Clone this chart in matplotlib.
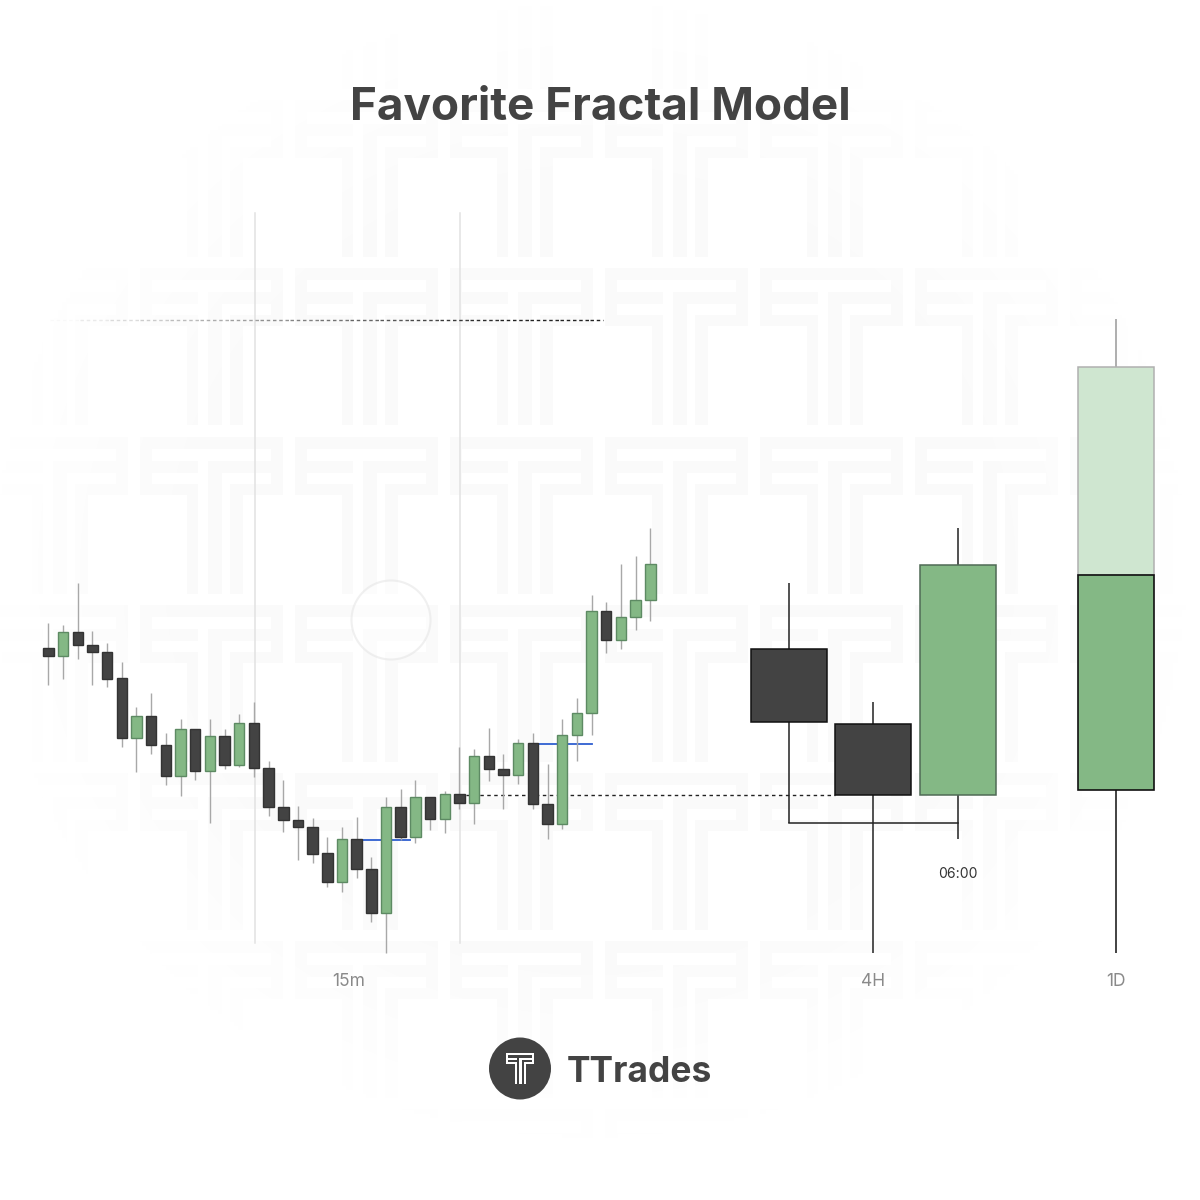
"""Favorite Fractal Model: 15m, 4H and 1D candles on one price scale."""
import matplotlib
matplotlib.use("Agg")
import matplotlib.pyplot as plt
import numpy as np
from matplotlib.patches import Circle, Rectangle

plt.rcParams["font.family"] = ["Inter", "Lato", "DejaVu Sans"]

# candle levels, 0 = lowest low on the picture
m15_top = [305, 321, 321, 308, 301, 275, 237, 237, 208, 224, 224, 217, 217, 230, 230, 185, 146, 133, 126, 100, 114,
           114, 84, 146, 146, 156, 156, 159, 159, 197, 197, 184, 210, 210, 149, 218, 240, 342, 342, 336, 353, 389]
m15_bot = [297, 297, 308, 301, 274, 215, 215, 208, 177, 177, 182, 182, 188, 188, 185, 146, 133, 126, 99, 71, 71,
           84, 40, 40, 116, 116, 134, 134, 150, 150, 184, 178, 178, 149, 129, 129, 218, 240, 313, 313, 336, 353]
m15_high = [330, 328, 370, 322, 310, 291, 246, 260, 220, 234, 224, 234, 224, 239, 251, 192, 173, 147, 135, 116, 126,
            136, 96, 156, 164, 173, 156, 162, 206, 204, 225, 199, 214, 220, 189, 234, 255, 358, 351, 389, 397, 425]
m15_low = [268, 274, 294, 268, 266, 206, 181, 199, 168, 157, 173, 130, 184, 186, 176, 137, 121, 93, 90, 66, 61,
           75, 31, 0, 113, 110, 123, 120, 144, 129, 172, 144, 169, 144, 114, 124, 192, 218, 300, 304, 323, 332]
m15_up = [0, 1, 0, 0, 0, 0, 1, 0, 0, 1, 0, 1, 0, 1, 0, 0, 0, 0, 0, 0, 1,
          0, 0, 1, 0, 1, 0, 1, 0, 1, 0, 0, 1, 0, 0, 1, 1, 1, 0, 1, 1, 1]

h4_top = [304, 229, 388]
h4_bot = [231, 158, 158]
h4_high = [370, 251, 425]
h4_low = [130, 0, 114]
h4_up = [0, 0, 1]

d1_top = 378
d1_bot = 163
d1_proj_top = 586
d1_high = 634
d1_low = 0

sweep_level = 633
open_level = 158.5
blue_levels = [113, 209]
bracket_level = 130

GREEN = "#84b885"
DARK = "#434343"

# one T of the background, in pixels from its top left corner
T_BARS = [
    (0, 0, 143, 12), (0, 0, 12, 58), (131, 0, 12, 58),
    (12, 24, 46, 12), (68, 24, 63, 12),
    (12, 47, 46, 11), (90, 47, 53, 11),
    (47, 47, 11, 110), (68, 24, 14, 133), (90, 47, 13, 110),
]


def draw_t(ax, x0, y0, scale=1.0, color="#fafafa", zorder=1):
    for bx, by, bw, bh in T_BARS:
        ax.add_patch(Rectangle((x0 + bx * scale, y0 + by * scale), bw * scale, bh * scale,
                               facecolor=color, edgecolor="none", zorder=zorder))


def draw_candle(ax, x, top, bot, high, low, color, width, edge, wick, lw):
    ax.plot([x, x], [low, high], color=wick, lw=lw, zorder=2, solid_capstyle="butt")
    ax.add_patch(Rectangle((x - width / 2, bot), width, top - bot, facecolor=color,
                           edgecolor=edge, lw=lw, zorder=3))


fig = plt.figure(figsize=(12, 12), dpi=100, facecolor="white")

# background axes, in image pixels
bg = fig.add_axes([0, 0, 1, 1], zorder=0)
bg.set_xlim(0, 1200)
bg.set_ylim(1200, 0)
bg.axis("off")

for y0 in [-68, 100, 268, 437, 605, 773, 941, 1109]:
    for x0 in [-170, -15, 140, 295, 450, 605, 760, 915, 1070]:
        draw_t(bg, x0, y0)

# watermark fades out away from the middle
yy, xx = np.mgrid[0:1200:300j, 0:1200:300j]
dist = np.hypot((xx - 590) / 620, (yy - 570) / 590)
fade = np.ones((300, 300, 4))
fade[..., 3] = np.clip((dist - 0.62) / 0.34, 0, 1)
bg.imshow(fade, extent=(0, 1200, 1200, 0), zorder=1.5, aspect="auto", interpolation="bilinear")
bg.set_xlim(0, 1200)
bg.set_ylim(1200, 0)

bg.add_patch(Circle((391, 620), 39.5, facecolor="white", alpha=0.6, edgecolor="#e6e6e6", lw=1.5, zorder=2))
bg.plot([254.5, 254.5], [213, 943], color="#e2e2e2", lw=1.1, zorder=2)
bg.plot([460, 460], [213, 943], color="#e2e2e2", lw=1.1, zorder=2)

# price axes on top, level 0 sits at pixel 953
ax = fig.add_axes([0, 0, 1, 1], zorder=1)
ax.set_xlim(0, 1200)
ax.set_ylim(953 - 1200, 953)
ax.axis("off")

# dotted level fading to the left
starts = np.arange(50, 603, 30)
for s in starts:
    ax.plot([s, min(s + 30, 603)], [sweep_level, sweep_level], color="#222222", lw=1, ls=(0, (2.5, 2)),
            alpha=min(1, (s - 40) / 450), zorder=1)

ax.plot([459, 835], [open_level, open_level], color="#222222", lw=1, ls=(0, (2.5, 2.5)), zorder=1)
ax.plot([357, 410], [blue_levels[0], blue_levels[0]], color="#2f5fd0", lw=1.3, zorder=1)
ax.plot([533, 592], [blue_levels[1], blue_levels[1]], color="#2f5fd0", lw=1.3, zorder=1)

for i in range(len(m15_top)):
    up = m15_up[i]
    draw_candle(ax, 48.4 + 14.68 * i, m15_top[i], m15_bot[i], m15_high[i], m15_low[i],
                GREEN if up else DARK, 10.5, "#5d8a63" if up else "#333333", "#a8a8a8", 1.0)

for x, top, bot, high, low, up in zip([788.8, 873, 957.8], h4_top, h4_bot, h4_high, h4_low, h4_up):
    draw_candle(ax, x, top, bot, high, low, GREEN if up else DARK, 76, "#4f6a55" if up else "#111111",
                "#222222", 1.1)
ax.plot([788.8, 957.8], [bracket_level, bracket_level], color="#222222", lw=1.1, zorder=2)

draw_candle(ax, 1116, d1_proj_top, d1_top, d1_high, d1_top, "#cfe6d0", 76, "#b0b0b0", "#999999", 1.1)
draw_candle(ax, 1116, d1_top, d1_bot, d1_top, d1_low, GREEN, 76, "#111111", "#222222", 1.2)

bg.text(600, 104, "Favorite Fractal Model", ha="center", va="center_baseline", fontsize=33, fontweight="bold",
        color=DARK, zorder=5)
for x, label in zip([349, 873, 1116], ["15m", "4H", "1D"]):
    bg.text(x, 981, label, ha="center", va="center", fontsize=12.5, color="#8a8a8a", zorder=5)
bg.text(958, 874, "06:00", ha="center", va="center", fontsize=10, color="#333333", zorder=5)

bg.add_patch(Circle((520, 1068.5), 31, facecolor=DARK, edgecolor="none", zorder=5))
draw_t(bg, 506, 1053, scale=0.196, color="white", zorder=6)
bg.text(567, 1069, "TTrades", ha="left", va="center_baseline", fontsize=25.5, fontweight="bold", color=DARK, zorder=5)

fig.savefig("out.png", dpi=100)
